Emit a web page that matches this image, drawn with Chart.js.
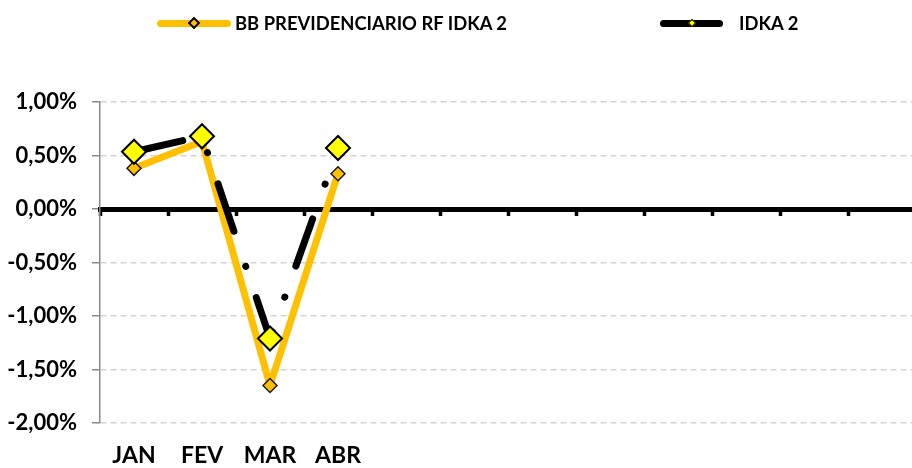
<!DOCTYPE html>
<html>
<head>
<meta charset="utf-8">
<script src="https://cdn.jsdelivr.net/npm/chart.js@4.4.1/dist/chart.umd.min.js"></script>
<style>
  html, body { margin: 0; padding: 0; background: #fff; overflow: hidden; }
  #wrap { position: relative; width: 912px; height: 468px; overflow: hidden; }
  #chart { position: absolute; left: 0; top: 0; }
  #legend { position: absolute; top: 0; left: 0; width: 912px; height: 40px;
            font-family: Lato, sans-serif; font-weight: bold; font-size: 18.4px; color: #000; }
  .item { position: absolute; top: 11px; height: 24px; display: flex; align-items: center; white-space: nowrap; }
  .swatch { position: relative; height: 7px; border-radius: 4px; }
  .mk { position: absolute; top: 50%; left: 50%; box-sizing: border-box;
        transform: translate(-50%, -50%) rotate(45deg); }
</style>
</head>
<body>
<div id="wrap">
  <!-- canvas um pouco mais largo: a área do gráfico passa da borda direita, como no original -->
  <canvas id="chart" width="916" height="468"></canvas>
  <div id="legend">
    <div class="item" style="left:157px">
      <span class="swatch" style="width:74px;background:#FFC000;margin-right:4px">
        <span class="mk" style="width:9px;height:9px;background:#FFC000;border:2px solid #000"></span>
      </span>
      <span>BB PREVIDENCIARIO RF IDKA 2</span>
    </div>
    <div class="item" style="left:660px">
      <span class="swatch" style="width:63px;background:#000;margin-right:16px">
        <span class="mk" style="width:6px;height:6px;background:#FFFF00;border:1px solid #000"></span>
      </span>
      <span>IDKA 2</span>
    </div>
  </div>
</div>
<script>
// dados (% ao mês)
var months = ['JAN', 'FEV', 'MAR', 'ABR', '', '', '', '', '', '', '', ''];
var bbPrev = [0.38, 0.63, -1.65, 0.33, null, null, null, null, null, null, null, null];
var idka2  = [0.535, 0.68, -1.21, 0.57, null, null, null, null, null, null, null, null];
var yTicks = [-2, -1.5, -1, -0.5, 0, 0.5, 1];

Chart.defaults.font.family = 'Lato';
Chart.defaults.color = '#000';

function pct(v) {
    return Number(v).toFixed(2).replace('.', ',') + '%';
}

var ctx = document.getElementById('chart').getContext('2d');

new Chart(ctx, {
    type: 'line',
    data: {
        labels: months,
        datasets: [
            {
                label: 'BB PREVIDENCIARIO RF IDKA 2',
                data: bbPrev,
                borderColor: '#FFC000',
                borderWidth: 7,
                borderCapStyle: 'round',
                borderJoinStyle: 'round',
                tension: 0,
                pointStyle: 'rectRot',
                pointRadius: 7,
                pointBackgroundColor: '#FFC000',
                pointBorderColor: '#1a1a1a',
                pointBorderWidth: 1.5,
                order: 1
            },
            {
                label: 'IDKA 2',
                data: idka2,
                borderColor: '#000',
                borderWidth: 7,
                borderDash: [50, 37, 0.01, 33],
                borderCapStyle: 'round',
                borderJoinStyle: 'round',
                tension: 0,
                pointStyle: 'rectRot',
                pointRadius: 12,
                pointBackgroundColor: '#FFFF00',
                pointBorderColor: '#000',
                pointBorderWidth: 2,
                order: 0
            }
        ]
    },
    options: {
        responsive: false,
        animation: false,
        events: [],
        layout: { autoPadding: false, padding: { top: 102, right: 0, left: 0, bottom: 0 } },
        plugins: {
            legend: { display: false },
            tooltip: { enabled: false }
        },
        scales: {
            x: {
                type: 'category',
                position: 'bottom',
                offset: true,
                grid: { display: false, drawTicks: false },
                border: { display: false },
                ticks: {
                    padding: 19,
                    autoSkip: false,
                    maxRotation: 0,
                    font: { size: 23, weight: 'bold' }
                },
                afterFit: function(s) { s.height = 45; }
            },
            zero: {
                type: 'category',
                axis: 'x',
                labels: months,
                position: { y: 0 },
                offset: true,
                grid: {
                    offset: true,
                    drawOnChartArea: false,
                    drawTicks: true,
                    tickLength: 4,
                    tickWidth: 3.5,
                    tickColor: '#000',
                    color: '#000'
                },
                border: { display: true, color: '#000', width: 5 },
                ticks: { display: false }
            },
            y: {
                min: -2,
                max: 1,
                afterBuildTicks: function(s) {
                    s.ticks = yTicks.map(function(v) { return { value: v }; });
                },
                grid: {
                    color: '#d4d4d4',
                    lineWidth: 1.5,
                    tickLength: 8,
                    tickColor: '#898989',
                    tickWidth: 1.5,
                    tickBorderDash: []
                },
                border: { color: '#898989', width: 1.5, dash: [6, 4] },
                ticks: {
                    padding: 15,
                    font: { size: 22, weight: 'bold' },
                    callback: function(v) { return pct(v); }
                },
                afterFit: function(s) { s.width = 100; }
            }
        }
    }
});
</script>
</body>
</html>
